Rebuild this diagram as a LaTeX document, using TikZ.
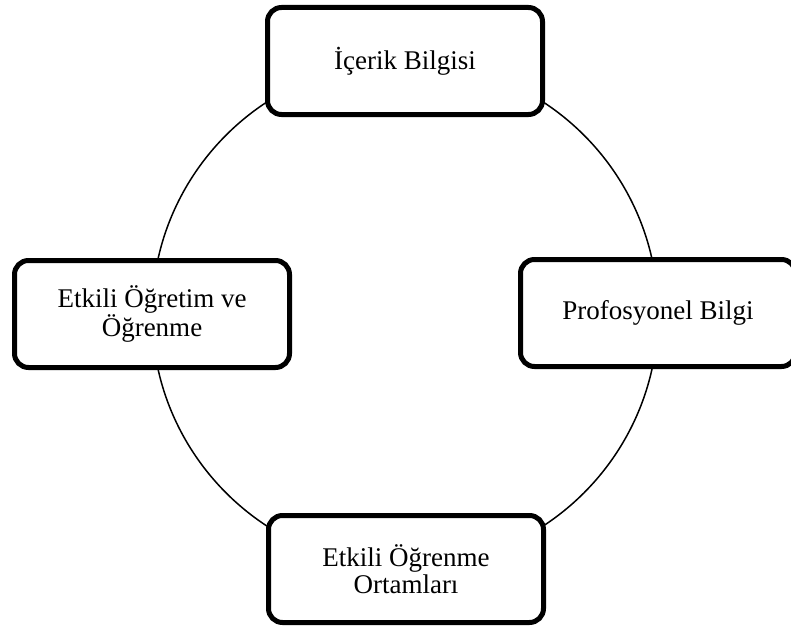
\documentclass[tikz,border=0pt]{standalone}
\usepackage{fontspec}
\setmainfont{Liberation Serif}
\begin{document}
\begin{tikzpicture}[x=1pt,y=-1pt,
  topicbox/.style={draw=black, line width=5pt, rounded corners=14pt, fill=white,
    minimum width=275pt, minimum height=107pt, inner sep=0pt, align=center,
    font=\fontsize{27}{27}\selectfont},
  ring/.style={draw=black, line width=1.5pt}]
\clip (0,0) rectangle (791,626);
\coordinate (c) at (405,314);
\draw[ring] (c) circle[radius=253pt];
\node[topicbox] (top) at (405,61) {İçerik Bilgisi};
\node[topicbox] (left) at (152,314) {Etkili Öğretim ve\\Öğrenme};
\node[topicbox] (right) at (658,313) {Profosyonel Bilgi};
\node[topicbox] (bottom) at (406,569) {Etkili Öğrenme\\Ortamları};
\end{tikzpicture}
\end{document}
